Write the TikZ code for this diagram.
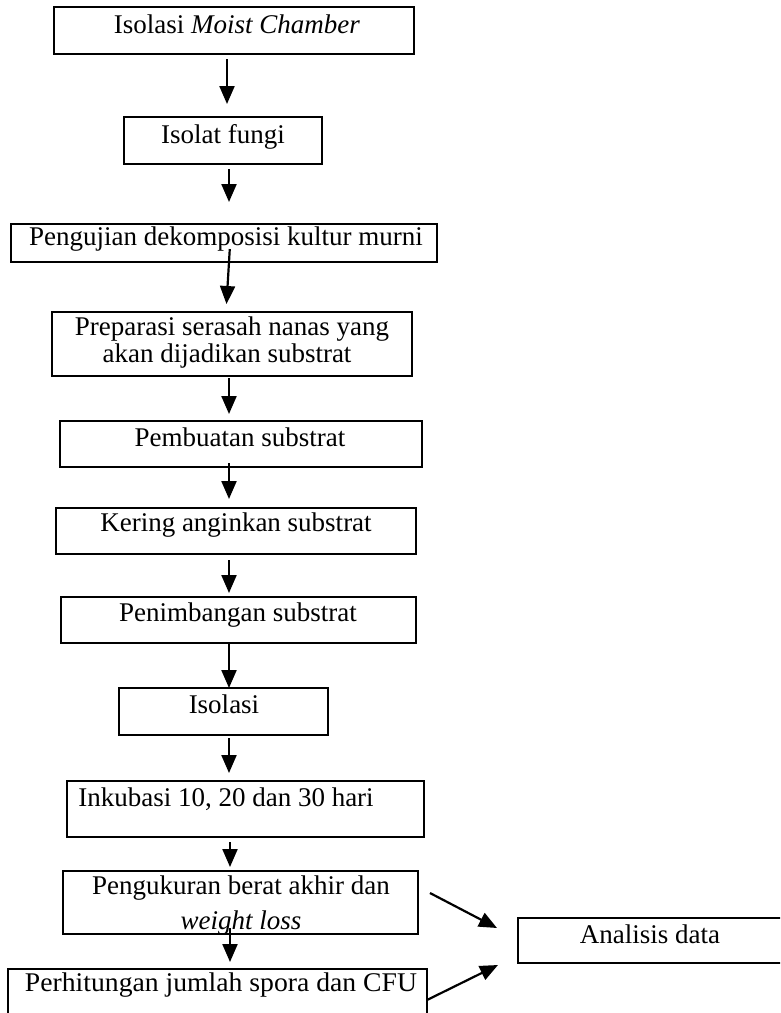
\documentclass[tikz,border=0pt]{standalone}
\usepackage{fontspec}
\setmainfont{Liberation Serif}
\usetikzlibrary{arrows.meta,fit,calc}
\tikzset{
  box/.style={draw=black, line width=2.4pt, inner sep=0pt, outer sep=0pt},
  txt/.style={inner sep=0pt, anchor=base, font=\fontsize{27pt}{31pt}\selectfont},
  wide/.style={font=\fontsize{27pt}{31pt}\selectfont\addfontfeature{FakeStretch=1.025}},
  arr/.style={line width=2.2pt, -{Triangle[length=18pt,width=15pt]}}
}
\begin{document}
\begin{tikzpicture}[x=1pt,y=-1pt]
\useasboundingbox (0,0) rectangle (780,1013);
\clip (0,0) rectangle (780,1013);
% boxes
\node[box, fit={(54,7)(414,54)}] (b1) {};
\node[box, fit={(124,117)(322,164)}] (b2) {};
\node[box, fit={(11,224)(437,262)}] (b3) {};
\node[box, fit={(52,312)(412,376)}] (b4) {};
\node[box, fit={(60,421)(422,467)}] (b5) {};
\node[box, fit={(56,508)(416,554)}] (b6) {};
\node[box, fit={(61,597)(416,643)}] (b7) {};
\node[box, fit={(119,688)(328,735)}] (b8) {};
\node[box, fit={(67,781)(424,837)}] (b9) {};
\node[box, fit={(63,871)(418,934)}] (b10) {};
\node[box, fit={(8,969)(427,1030)}] (b11) {};
\node[box, fit={(518,918)(800,963)}] (b12) {};
% texts
\node[txt] (t1) at (237,33) {Isolasi \textit{Moist Chamber}};
\node[txt] (t2) at (223,143) {Isolat fungi};
\node[txt] (t3) at (226,245) {Pengujian dekomposisi kultur murni};
\node[txt] (t4a) at (232,335) {Preparasi serasah nanas yang};
\node[txt] (t4b) at (227,362) {akan dijadikan substrat};
\node[txt] (t5) at (240,446) {Pembuatan substrat};
\node[txt] (t6) at (236,531) {Kering anginkan substrat};
\node[txt] (t7) at (238,621) {Penimbangan substrat};
\node[txt] (t8) at (224,713) {Isolasi};
\node[txt] (t9) at (226,806) {Inkubasi 10, 20 dan 30 hari};
\node[txt] (t10a) at (241,894) {Pengukuran berat akhir dan};
\node[txt] (t10b) at (241,929) {\textit{weight loss}};
\node[txt, wide] (t11) at (221,991) {Perhitungan jumlah spora dan CFU};
\node[txt] (t12) at (650,943) {Analisis data};
% helper columns
\coordinate (c226) at (226,0);
\coordinate (c227) at (227,0);
\coordinate (c229) at (229,0);
\coordinate (c230) at (230,0);
% arrows
\draw[arr, shorten <=5pt, shorten >=13pt] (b1.south -| c227) -- (b2.north -| c227);
\draw[arr, shorten <=5pt, shorten >=22pt] (b2.south -| c229) -- (b3.north -| c229);
\draw[arr, shorten <=-13pt, shorten >=8pt] (b3.south -| c229) -- (b4.north -| c226);
\draw[arr, shorten <=2pt, shorten >=7pt] (b4.south -| c229) -- (b5.north -| c229);
\draw[arr, shorten <=-4pt, shorten >=9pt] (b5.south -| c229) -- (b6.north -| c229);
\draw[arr, shorten <=6pt, shorten >=4pt] (b6.south -| c229) -- (b7.north -| c229);
\draw[arr] (b7.south -| c229) -- (b8.north -| c229);
\draw[arr, shorten <=3pt, shorten >=8pt] (b8.south -| c229) -- (b9.north -| c229);
\draw[arr, shorten <=5pt, shorten >=4pt] (b9.south -| c230) -- (b10.north -| c230);
\draw[arr, shorten <=-6pt, shorten >=7pt] (b10.south -| c230) -- (b11.north -| c230);
\coordinate (p10) at ($(b10.east)+(12,-9.5)$);
\coordinate (q12a) at ($(b12.west)+(-21,-12.5)$);
\coordinate (p11) at (427,1000);
\coordinate (q12b) at ($(b12.south west)+(-20,2)$);
\draw[arr] (p10) -- (q12a);
\draw[arr] (p11) -- (q12b);
\end{tikzpicture}
\end{document}
